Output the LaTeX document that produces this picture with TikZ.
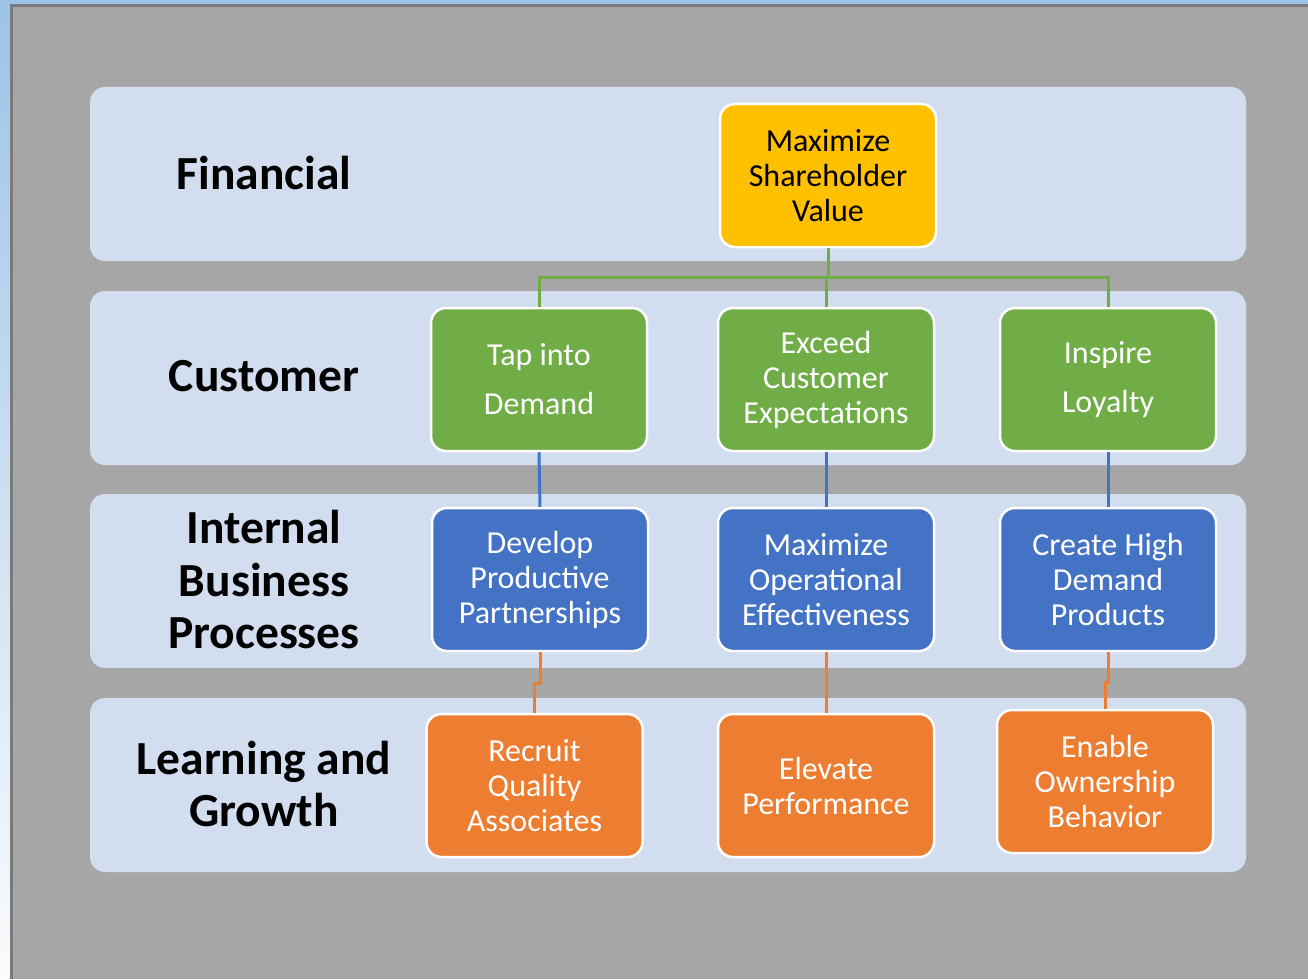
\documentclass[tikz,border=0pt]{standalone}
\usepackage{fontspec}
\setmainfont{Carlito}
\definecolor{bgray}{HTML}{A6A6A6}
\definecolor{dgray}{HTML}{7A7A7A}
\definecolor{lblue}{HTML}{9DC3E6}
\definecolor{band}{HTML}{D2DEEF}
\definecolor{cyel}{HTML}{FFC000}
\definecolor{cgrn}{HTML}{70AD47}
\definecolor{cblu}{HTML}{4472C4}
\definecolor{cora}{HTML}{ED7D31}
\tikzset{
  bandbox/.style={fill=band, rounded corners=15pt},
  catlabel/.style={font=\fontsize{47.5}{52.5}\selectfont\bfseries, align=center, text=black},
  goalbox/.style={draw=white, line width=2.5pt, rounded corners=15pt, minimum width=216pt, minimum height=143pt, inner sep=0pt, align=center, font=\fontsize{32}{35}\selectfont},
  conn/.style={line width=3pt}
}
\begin{document}
\begin{tikzpicture}[x=1pt,y=-1pt]
\useasboundingbox (0,0) rectangle (1308,979);
% background
\shade[top color=lblue, bottom color=white!95!lblue] (0,0) rectangle (12,979);
\fill[lblue] (0,0) rectangle (1308,6);
\fill[bgray] (11.5,5.5) rectangle (1308,979);
\draw[dgray, line width=3pt] (11.5,979) -- (11.5,5.5) -- (1308,5.5);
% bands
\fill[bandbox] (90,87) rectangle (1246,261);
\fill[bandbox] (90,291) rectangle (1246,465);
\fill[bandbox] (90,494) rectangle (1246,668);
\fill[bandbox] (90,698) rectangle (1246,872);
% labels
\node[catlabel] (lfin) at (264,173) {Financial};
\node[catlabel] (lcus) at (264,376) {Customer};
\node[catlabel] (lint) at (264,580) {Internal\\Business\\Processes};
\node[catlabel] (llea) at (264,784) {Learning and\\Growth};
% boxes
\node[goalbox, fill=cyel, text=black] (fin) at (828,175.5) {Maximize\\Shareholder\\Value};
\node[goalbox, fill=cgrn, text=white] (tap) at (539,379.5) {Tap into\\[14pt]Demand};
\node[goalbox, fill=cgrn, text=white] (exc) at (826,379.5) {Exceed\\Customer\\Expectations};
\node[goalbox, fill=cgrn, text=white] (ins) at (1108,379.5) {Inspire\\[14pt]Loyalty};
\node[goalbox, fill=cblu, text=white] (dev) at (540,579.5) {Develop\\Productive\\Partnerships};
\node[goalbox, fill=cblu, text=white] (max) at (826,579.5) {Maximize\\Operational\\Effectiveness};
\node[goalbox, fill=cblu, text=white] (cre) at (1108,579.5) {Create High\\Demand\\Products};
\node[goalbox, fill=cora, text=white] (rec) at (534.5,785.5) {Recruit\\Quality\\Associates};
\node[goalbox, fill=cora, text=white] (ele) at (826,785.5) {Elevate\\Performance};
\node[goalbox, fill=cora, text=white] (ena) at (1105,781.5) {Enable\\Ownership\\Behavior};
% connectors
\draw[conn, cgrn] (fin.south) -- ++(0,29.5) -| (tap.north);
\draw[conn, cgrn] (fin.south) -- ++(0,29.5) -| (ins.north);
\draw[conn, cgrn] (fin.south) -- ++(0,29.5) -| (exc.north);
\draw[conn, cblu] (tap.south) -- (dev.north);
\draw[conn, cblu] (exc.south) -- (max.north);
\draw[conn, cblu] (ins.south) -- (cre.north);
\draw[conn, cora] (dev.south) -- ++(0,31) -| (rec.north);
\draw[conn, cora] (max.south) -- (ele.north);
\draw[conn, cora] (cre.south) -- ++(0,30) -| (ena.north);
\end{tikzpicture}
\end{document}
